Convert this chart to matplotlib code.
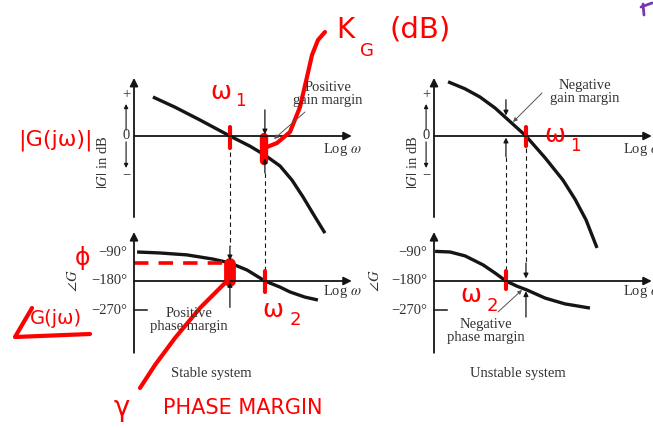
import matplotlib
matplotlib.use("Agg")
import matplotlib.pyplot as plt
import numpy as np

plt.rcParams["mathtext.fontset"] = "stix"
plt.rcParams["font.family"] = "Liberation Serif"

W, H = 653, 428
INK = "#151515"
TXT = "#333333"
RED = "#fe0000"

# sketched Bode data: log w (arbitrary units), |G| in dB, phase in degrees
stable_w_mag = [0.86, 1.86, 3.0, 4.36, 5.27, 5.95, 6.64, 7.18, 7.68, 8.18, 8.68]
stable_mag_db = [10, 7.4, 4.1, 0, -2.6, -4.9, -7.7, -11.3, -15.6, -20.3, -24.9]
stable_w_ph = [0.14, 1.18, 2.41, 3.59, 4.36, 5.14, 5.95, 6.64, 7.09, 7.77, 8.36]
stable_phase = [-90, -93, -99, -112, -124, -146, -180, -199, -214, -230, -239]
stable_wgc = 4.36   # |G| = 0 dB
stable_wpc = 5.95   # phase = -180

unstable_w_mag = [0.64, 1.41, 2.09, 2.77, 3.32, 3.77, 4.18, 5.05, 5.86, 6.41, 6.91, 7.41]
unstable_mag_db = [13.9, 12.1, 10, 7.2, 4.4, 2.1, 0, -5.6, -11.3, -16.2, -21.5, -28.7]
unstable_w_ph = [0.05, 0.73, 1.41, 2.23, 2.77, 3.27, 3.77, 4.23, 5.05, 5.95, 7.09]
unstable_phase = [-88, -90, -102, -130, -155, -180, -196, -208, -233, -251, -264]
unstable_wgc = 4.18
unstable_wpc = 3.27

mag_ticks = [10.5, 0, -9.8]
mag_tick_labels = ["+", "0", "\u2212"]
phase_ticks = [-90, -180, -270]
phase_tick_labels = ["\u221290\u00b0", "\u2212180\u00b0", "\u2212270\u00b0"]

fig = plt.figure(figsize=(W / 100, H / 100), dpi=100)


def panel(ox, oy, sx, sy, y0):
    ax = fig.add_axes([0, 0, 1, 1])
    ax.set_xlim(-ox / sx, (W - ox) / sx)
    ax.set_ylim(y0 - (H - oy) / sy, y0 + oy / sy)
    ax.axis("off")
    return ax


def arrow(ax, x0, y0, x1, y1, lw=0.9, ms=7, color=INK):
    ax.annotate("", xy=(x1, y1), xytext=(x0, y0),
                arrowprops=dict(arrowstyle="-|>", lw=lw, color=color,
                                mutation_scale=ms, shrinkA=0, shrinkB=0))


def carry(src, dst, x, y):
    return dst.transData.inverted().transform(src.transData.transform((x, y)))[1]


def red_tick(ax, x, y0, y1, lw=3):
    ax.plot([x, x], [y0, y1], color=RED, lw=lw, solid_capstyle="round")


def draw_side(ox, w_mag, mag_db, w_ph, phase, wgc, wpc, stable):
    mag = panel(ox, 136, 22, 3.9, 0)
    ph = panel(ox, 281, 22, 29 / 90, -180)

    # axes with arrow heads
    arrow(mag, 0, -20.8, 0, 14.9, lw=1.3, ms=12)
    arrow(mag, 0, 0, 9.9, 0, lw=1.3, ms=12)
    arrow(ph, 0, -403, 0, -28, lw=1.3, ms=12)
    arrow(ph, 0, -180, 9.9, -180, lw=1.3, ms=12)
    ph.plot([0, 0.6], [-270, -270], color=INK, lw=1.1)

    # little +/- direction arrows on the dB axis
    arrow(mag, -0.36, 1.5, -0.36, 8.2, lw=0.8, ms=6)
    arrow(mag, -0.36, -1.5, -0.36, -8.2, lw=0.8, ms=6)
    for v, s in zip(mag_ticks, mag_tick_labels):
        mag.text(-0.36, v, s, ha="center", va="center", fontsize=10.5, color=TXT)
    for v, s in zip(phase_ticks, phase_tick_labels):
        ph.text(-0.3, v, s, ha="right", va="center", fontsize=10.5, color=TXT)
    mag.text(-1.4 if stable else -0.95, -6.8, r"$|G|$ in dB", rotation=90,
             ha="center", va="center", fontsize=10.5, color=TXT)
    ph.text(-2.77 if stable else -2.68, -178, r"$\angle G$", rotation=90,
            ha="center", va="center", fontsize=10.5, color=TXT)
    mag.text(8.6, -3.5, r"Log $\omega$", ha="left", va="center", fontsize=10.5, color=TXT)
    ph.text(8.6, -213, r"Log $\omega$", ha="left", va="center", fontsize=10.5, color=TXT)

    mag.plot(w_mag, mag_db, color=INK, lw=2.4, solid_capstyle="butt")
    ph.plot(w_ph, phase, color=INK, lw=2.4, solid_capstyle="butt")

    gm_db = np.interp(wpc, w_mag, mag_db)
    pm_deg = np.interp(wgc, w_ph, phase)

    # gain margin at the phase crossover
    if stable:
        arrow(mag, wpc, 6.7, wpc, 0.4)
        arrow(mag, wpc, -9.5, wpc, gm_db - 0.8)
        top = carry(mag, ph, wpc, -9.5)
    else:
        arrow(mag, wpc, 9.3, wpc, gm_db + 0.6)
        arrow(mag, wpc, -5.3, wpc, -0.4)
        top = carry(mag, ph, wpc, -5.3)
    ph.plot([wpc, wpc], [top, -180], color=INK, lw=0.8, dashes=(4, 3))

    # phase margin at the gain crossover
    top = carry(mag, ph, wgc, -4.1 if stable else -3.0)
    if stable:
        ph.plot([wgc, wgc], [top, -70], color=INK, lw=0.8, dashes=(4, 3))
        arrow(ph, wgc, -72, wgc, pm_deg + 8)
        arrow(ph, wgc, -262, wgc, -183)
    else:
        ph.plot([wgc, wgc], [top, -122], color=INK, lw=0.8, dashes=(4, 3))
        arrow(ph, wgc, -124, wgc, -172)
        arrow(ph, wgc, -292, wgc, pm_deg - 5)
    return mag, ph, gm_db, pm_deg


magL, phL, gmL, pmL = draw_side(134, stable_w_mag, stable_mag_db, stable_w_ph,
                                stable_phase, stable_wgc, stable_wpc, True)
magR, phR, gmR, pmR = draw_side(434, unstable_w_mag, unstable_mag_db, unstable_w_ph,
                                unstable_phase, unstable_wgc, unstable_wpc, False)

# red markings on the crossover frequencies
red_tick(magL, stable_wgc, 2.3, -3.1)
red_tick(magL, stable_wpc - 0.05, -0.2, gmL - 1.4, lw=6)
phL.plot([0, stable_wgc - 0.3], [pmL, pmL], color=RED, lw=2.6, dashes=(4, 2.8))
red_tick(phL, stable_wgc, pmL - 3, -180, lw=8.5)
red_tick(phL, stable_wpc, -150, -213)
red_tick(magR, unstable_wgc, 2.3, -2.6)
red_tick(phR, unstable_wpc, -150, -204)

# overlay in pixel units for the free text and pen strokes
ov = fig.add_axes([0, 0, 1, 1])
ov.set_xlim(0, W)
ov.set_ylim(H, 0)
ov.axis("off")

serif = dict(fontsize=10.5, color=TXT, ha="center", va="center", linespacing=1.05)
ov.text(328, 94, "Positive\ngain margin", **serif)
ov.text(585, 92, "Negative\ngain margin", **serif)
ov.text(189, 320, "Positive\nphase margin", **serif)
ov.text(486, 331, "Negative\nphase margin", **serif)
ov.text(211, 374, "Stable system", **serif)
ov.text(518, 374, "Unstable system", **serif)

lead = dict(arrowstyle="-|>", lw=0.7, color="#555555", mutation_scale=6, shrinkA=0, shrinkB=0)
ov.annotate("", xy=(274, 139), xytext=(305, 112), arrowprops=lead)
ov.annotate("", xy=(513, 122), xytext=(542, 93), arrowprops=lead)
ov.annotate("", xy=(522, 290), xytext=(498, 312), arrowprops=lead)

hand = dict(color=RED, family="DejaVu Sans", ha="center", va="center")
kg_x = [267, 277, 290, 300, 307, 312, 318, 325]
kg_y = [147, 143, 132, 107, 77, 55, 40, 32]
ov.plot(kg_x, kg_y, color=RED, lw=3, solid_capstyle="round")
ov.text(345, 30, "K", fontsize=20, **hand)
ov.text(367, 51, "G", fontsize=13, **hand)
ov.text(420, 29, "(dB)", fontsize=21, **hand)

ov.text(221, 92, "\u03c9", fontsize=18, **hand)
ov.text(240, 101, "1", fontsize=12, **hand)
ov.text(55, 140, "|G(j\u03c9)|", fontsize=16, **hand)
ov.text(83, 258, "\u03d5", fontsize=17, **hand)
ov.text(273, 310, "\u03c9", fontsize=18, **hand)
ov.text(295, 320, "2", fontsize=13, **hand)

ang_x = [32, 15, 90]
ang_y = [308, 337, 334]
ov.plot(ang_x, ang_y, color=RED, lw=3, solid_joinstyle="round", solid_capstyle="round")
ov.text(56, 319, "G(j\u03c9)", fontsize=14, **hand)

gam_x = [228, 200, 175, 155, 140]
gam_y = [280, 308, 338, 365, 388]
ov.plot(gam_x, gam_y, color=RED, lw=3, solid_capstyle="round")
ov.text(122, 408, "\u03b3", fontsize=20, **hand)
ov.text(243, 408, "PHASE MARGIN", fontsize=15, **hand)

ov.text(555, 135, "\u03c9", fontsize=18, **hand)
ov.text(575, 146, "1", fontsize=12, **hand)
ov.text(471, 295, "\u03c9", fontsize=18, **hand)
ov.text(492, 306, "2", fontsize=13, **hand)

ov.plot([643, 644], [4, 15], color="#7a35b0", lw=2, solid_capstyle="round")
ov.plot([641, 652], [7, 3], color="#7a35b0", lw=2, solid_capstyle="round")

fig.savefig("out.png", dpi=100)
